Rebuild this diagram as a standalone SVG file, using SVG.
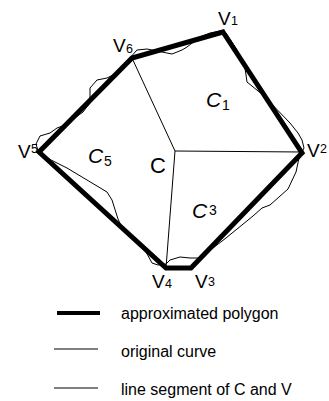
<svg xmlns="http://www.w3.org/2000/svg" width="329" height="401" viewBox="0 0 329 401">
<style>
text{font-family:"Liberation Sans",Arial,sans-serif;fill:#000}
.v{font-size:19px}
.s{font-size:12.5px}
.c{font-size:21px;font-style:italic}
.cs{font-size:14px}
.lg{font-size:16px}
.thick{fill:none;stroke:#000;stroke-width:5;stroke-linejoin:miter}
.thin{fill:none;stroke:#000;stroke-width:1}
</style>
<rect width="329" height="401" fill="#fff"/>
<g id="connectors">
<path id="curve" class="thin" d="M128,60 L137,50 L147,49 L157,51 L172,54 L182,50 L187,47 L200,37 L210,33 L220,31 L226,33 L237,50 L245,68 L247,82 L263,95 L290,123 L298,133 L302,140 L304,148 L299,158 L296,172 L288,189 L270,205 L262,208 L253,216 L226,238 L213,248 L201,258 L190,258 L180,257 L170,260 L166,264 L158,265 L152,263 L146,252 L139,245 L124,232 L118,219 L112,200 L107,192 L67,168 L39,154 L36,144 L40,136 L50,133 L57,128 L65,125 L83,112 L90,103 L90,88 L97,80 L107,78 L117,73 L128,60"/>
<line class="thin" x1="175" y1="151" x2="132" y2="58"/>
<line class="thin" x1="175" y1="151" x2="302" y2="152"/>
<line class="thin" x1="175" y1="151" x2="166" y2="268"/>
<polygon id="polygon" class="thick" points="223,32 302,153 191,268 166,268 39,152 132,58"/>
</g>
<g id="V1"><text class="v" x="218" y="25">V</text><text class="s" x="231" y="25">1</text></g>
<g id="V6"><text class="v" x="113" y="52">V</text><text class="s" x="126" y="53">6</text></g>
<g id="V5"><text class="v" x="18" y="158">V</text><text class="s" x="31" y="153">5</text></g>
<g id="V2"><text class="v" x="307" y="157">V</text><text class="s" x="320" y="153">2</text></g>
<g id="V4"><text class="v" x="152" y="288">V</text><text class="s" x="165" y="288">4</text></g>
<g id="V3"><text class="v" x="195" y="288">V</text><text class="s" x="208" y="286">3</text></g>
<g id="C"><text x="150" y="173" style="font-size:22px">C</text></g>
<g id="C1"><text class="c" x="206" y="107">C</text><text class="cs" x="222" y="110">1</text></g>
<g id="C5"><text class="c" x="88" y="163">C</text><text class="cs" x="104" y="166">5</text></g>
<g id="C3"><text class="c" x="192" y="218">C</text><text class="cs" x="209" y="215">3</text></g>
<g id="legend">
<line x1="57" y1="313" x2="100" y2="313" stroke="#000" stroke-width="4"/>
<text class="lg" x="121" y="319">approximated polygon</text>
<line class="thin" x1="54" y1="349" x2="98" y2="349"/>
<text class="lg" x="121" y="357">original curve</text>
<line class="thin" x1="54" y1="388" x2="98" y2="388"/>
<text class="lg" x="121" y="395">line segment of C and V</text>
</g>
</svg>
